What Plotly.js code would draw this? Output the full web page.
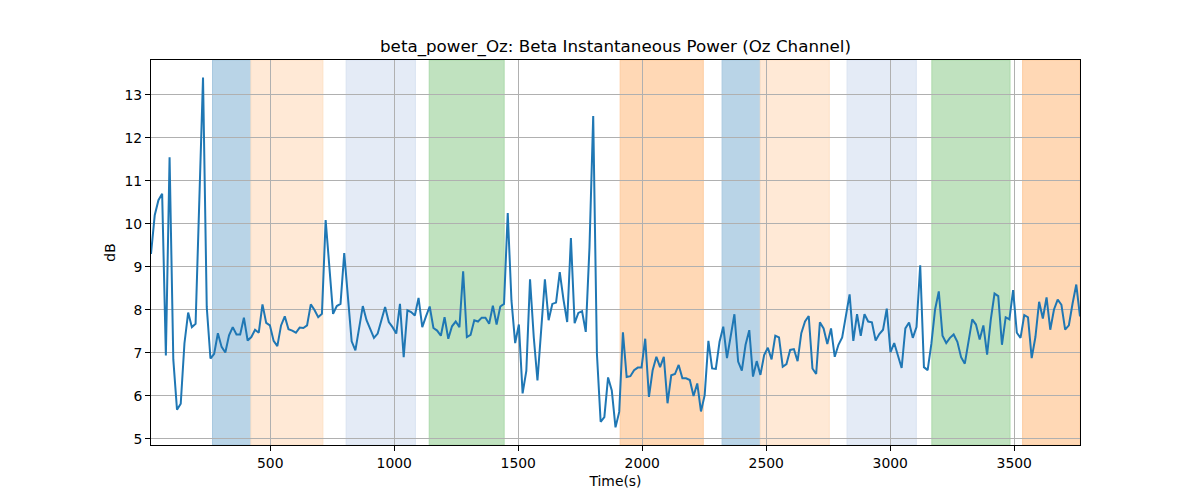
<!DOCTYPE html>
<html>
<head>
<meta charset="utf-8">
<script src="https://cdn.plot.ly/plotly-3.0.1.min.js"></script>
<style>
  html, body { margin: 0; padding: 0; background: #fff; }
  #chart { width: 1200px; height: 500px; }
</style>
</head>
<body>
<div id="chart"></div>
<script>
// ── Beta power (dB), regular sampling ──
const TIME_START = 19;
const TIME_STEP = 14.985;
const BETA_POWER_OZ = [
  9.30, 10.20, 10.55, 10.70, 6.94, 11.55, 6.85, 5.68, 5.82, 7.22, 7.94, 7.60,
  7.68, 10.30, 13.40, 8.07, 6.87, 6.98, 7.46, 7.14, 7.01, 7.41, 7.60, 7.43,
  7.43, 7.82, 7.29, 7.37, 7.54, 7.47, 8.13, 7.70, 7.64, 7.28,
  7.16, 7.64, 7.85, 7.55, 7.52, 7.47, 7.59, 7.58, 7.64, 8.13, 8.00, 7.83,
  7.91, 10.09, 8.90, 7.91, 8.09, 8.14, 9.32, 8.20, 7.27, 7.06, 7.55, 8.09,
  7.76, 7.54, 7.35, 7.45, 7.76, 8.07, 7.72, 7.60,
  7.45, 8.14, 6.90, 7.99, 7.95, 7.87, 8.28, 7.60, 7.85, 8.08, 7.58, 7.52,
  7.40, 7.83, 7.33, 7.62, 7.73, 7.60, 8.90, 7.37, 7.42, 7.76, 7.73, 7.82,
  7.82, 7.68, 8.10, 7.66, 8.08, 8.14, 10.25,
  8.22, 7.23, 7.66, 6.06, 6.58, 8.71, 7.37, 6.36, 7.45, 8.71, 7.76, 8.14,
  8.17, 8.88, 8.24, 7.72, 9.67, 7.69, 7.93, 7.97, 7.49, 9.46, 12.51, 6.98,
  5.40, 5.51, 6.43, 6.13, 5.27, 5.63, 7.48, 6.44, 6.46, 6.60,
  6.66, 6.66, 7.33, 5.98, 6.60, 6.91, 6.67, 6.91, 5.83, 6.48, 6.51, 6.72,
  6.41, 6.41, 6.37, 6.00, 6.29, 5.64, 6.02, 7.28, 6.64, 6.63, 7.26, 7.61,
  6.88, 7.38, 7.90, 6.80, 6.59, 7.19, 7.53, 6.45,
  6.81, 6.49, 6.95, 7.12, 6.85, 7.40, 7.36, 6.68, 6.74, 7.07, 7.09, 6.81,
  7.46, 7.73, 7.86, 6.64, 6.51, 7.71, 7.57, 7.21, 7.57, 6.91, 7.19, 7.36,
  7.84, 8.36, 7.28, 7.90, 7.40, 7.90, 7.73, 7.71,
  7.29, 7.44, 7.54, 8.03, 7.02, 7.23, 6.94, 6.65, 7.57, 7.71, 7.35, 7.60,
  9.04, 6.67, 6.60, 7.21, 8.01, 8.43, 7.40, 7.23, 7.35, 7.43, 7.26, 6.90,
  6.75, 7.29, 7.78, 7.66,
  7.31, 7.64, 6.96, 7.78, 8.38, 8.32, 7.19, 7.83, 7.78, 8.46, 7.47, 7.35,
  7.88, 7.83, 6.88, 7.37, 8.19, 7.80, 8.29, 7.54, 8.01, 8.24, 8.12, 7.54,
  7.64, 8.15, 8.59, 7.85,
];
const TIME_S = BETA_POWER_OZ.map((_, i) => TIME_START + i * TIME_STEP);

// ── Task segments (shaded spans, seconds) ──
const SPAN_START = [267, 422, 806, 1141, 1911, 2322, 2476, 2826, 3168, 3534];
const SPAN_END = [422, 712, 1085, 1443, 2246, 2476, 2754, 3105, 3483, 3765];
const SPAN_KIND = [
  "blue", "peach", "lavender", "green", "orange",
  "blue", "peach", "lavender", "green", "orange",
];

const X_TICKS = [500, 1000, 1500, 2000, 2500, 3000, 3500];
const Y_TICKS = [5, 6, 7, 8, 9, 10, 11, 12, 13];

// ── Styles ──
const SPAN_FILL = {
  blue: "#b9d4e7",
  peach: "#ffe9d6",
  lavender: "#e4ebf6",
  green: "#c0e2bf",
  orange: "#ffd8b5",
};
const SPAN_EDGE = {
  blue: "#a9c9e0",
  peach: "#fde0c6",
  lavender: "#d9e3f1",
  green: "#acd9ab",
  orange: "#fdcca0",
};
const FONT = "DejaVu Sans, sans-serif";

const shapes = SPAN_START.map((x0, i) => ({
  type: "rect",
  xref: "x",
  yref: "paper",
  x0: x0,
  x1: SPAN_END[i],
  y0: 0,
  y1: 1,
  layer: "below",
  fillcolor: SPAN_FILL[SPAN_KIND[i]],
  line: { color: SPAN_EDGE[SPAN_KIND[i]], width: 1 },
}));

const trace = {
  type: "scatter",
  mode: "lines",
  x: TIME_S,
  y: BETA_POWER_OZ,
  line: { color: "#1f77b4", width: 2 },
  hovertemplate: "%{x:.0f} s<br>%{y:.2f} dB<extra></extra>",
};

const axisBase = {
  showline: true,
  mirror: true,
  linecolor: "#000",
  linewidth: 1,
  ticks: "outside",
  ticklen: 5,
  tickwidth: 1,
  tickcolor: "#000",
  showgrid: true,
  gridcolor: "#b0b0b0",
  gridwidth: 1,
  zeroline: false,
  tickfont: { family: FONT, size: 13.9, color: "#000" },
};

const layout = {
  width: 1200,
  height: 500,
  paper_bgcolor: "#fff",
  plot_bgcolor: "rgba(0,0,0,0)",
  margin: { l: 151, r: 120, t: 60, b: 55 },
  showlegend: false,
  font: { family: FONT, color: "#000" },
  title: {
    text: "beta_power_Oz: Beta Instantaneous Power (Oz Channel)",
    font: { family: FONT, size: 16.7, color: "#000" },
    xref: "paper",
    x: 0.5,
    xanchor: "center",
    yref: "container",
    y: 0.908,
    yanchor: "middle",
  },
  xaxis: {
    ...axisBase,
    range: [TIME_S[0], TIME_S[TIME_S.length - 1]],
    tickvals: X_TICKS,
    ticktext: X_TICKS.map(String),
    title: { text: "Time(s)", font: { family: FONT, size: 13.9 }, standoff: 6 },
  },
  yaxis: {
    ...axisBase,
    range: [4.86, 13.81],
    tickvals: Y_TICKS,
    ticktext: Y_TICKS.map(String),
    title: { text: "dB", font: { family: FONT, size: 13.9 }, standoff: 5 },
  },
  shapes: shapes,
};

Plotly.newPlot("chart", [trace], layout, { displayModeBar: false, staticPlot: true });
</script>
</body>
</html>
